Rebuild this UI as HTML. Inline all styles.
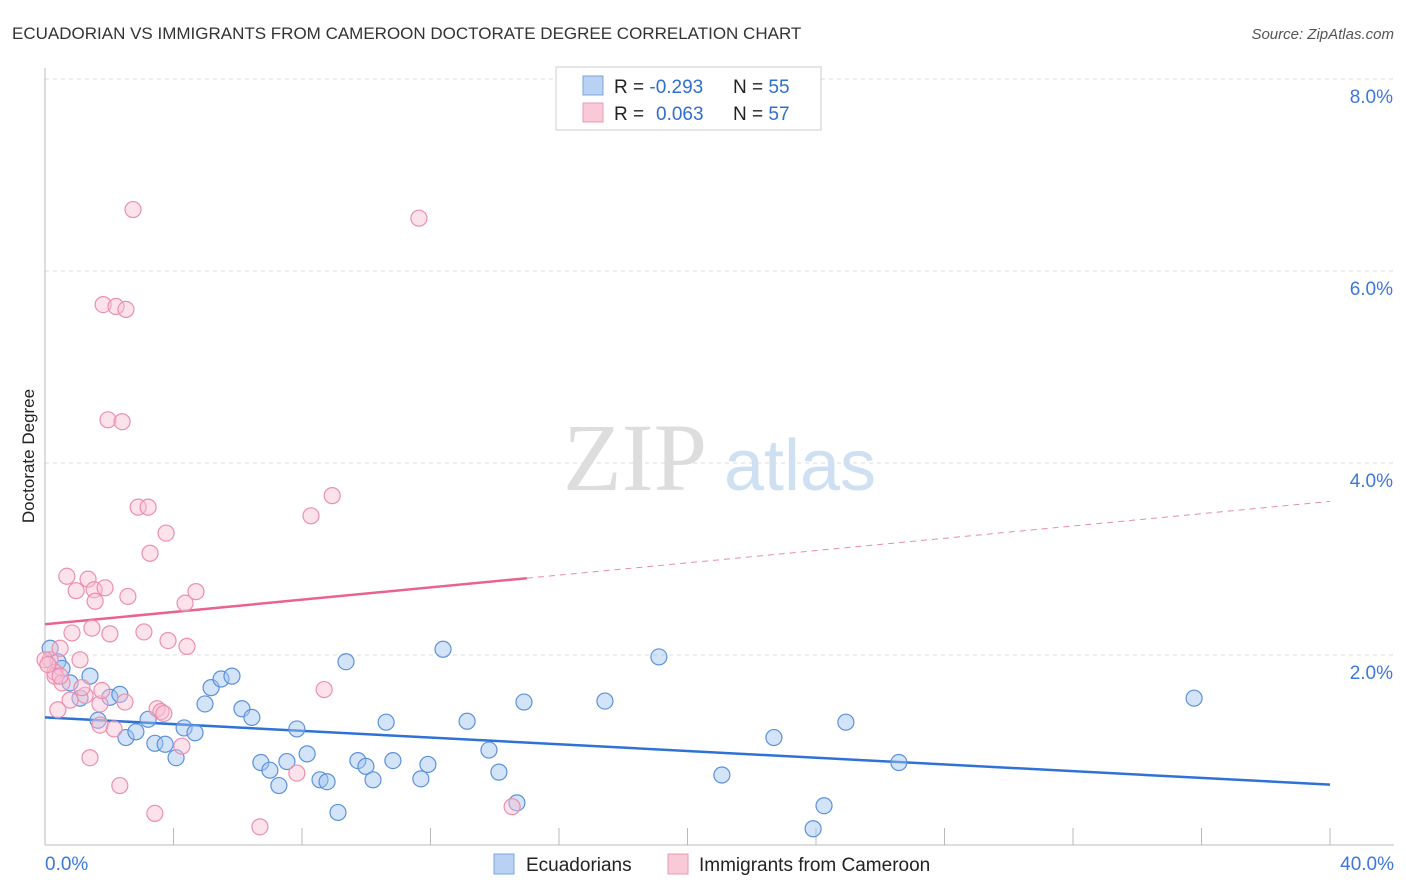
<!DOCTYPE html>
<html><head><meta charset="utf-8"><style>
body{margin:0;background:#fff;font-family:"Liberation Sans",sans-serif;}
svg{display:block}
</style></head><body>
<svg width="1406" height="892" id="chart">
<text x="12" y="39" font-size="17" fill="#333">ECUADORIAN VS IMMIGRANTS FROM CAMEROON DOCTORATE DEGREE CORRELATION CHART</text>
<text x="1394" y="39" font-size="15" fill="#555" font-style="italic" text-anchor="end">Source: ZipAtlas.com</text>
<text x="34" y="456" font-size="17" fill="#222" text-anchor="middle" transform="rotate(-90 34 456)">Doctorate Degree</text>
<g>
<text x="635" y="490" font-size="96" fill="#ddd" font-family="Liberation Serif,serif" text-anchor="middle">ZIP</text>
<text x="800" y="490" font-size="72" fill="#cfe0f3" text-anchor="middle">atlas</text>
</g>
<g id="grid"></g><g id="axes"></g><g id="trend"></g><g id="pts"></g>
<g>
<rect x="556" y="67" width="265" height="63" fill="#fff" stroke="#ccc"/>
<rect x="583" y="76" width="20" height="19" fill="#b9d2f3" stroke="#7aa4de"/>
<rect x="583" y="103" width="20" height="19" fill="#f9c9d8" stroke="#eb9ab4"/>
<text x="614" y="93" font-size="19" fill="#222">R = <tspan fill="#2f6fd0">-0.293</tspan><tspan x="733">N = </tspan><tspan fill="#2f6fd0">55</tspan></text>
<text x="614" y="120" font-size="19" fill="#222">R = <tspan fill="#2f6fd0" x="656">0.063</tspan><tspan x="733">N = </tspan><tspan fill="#2f6fd0">57</tspan></text>
</g>
<g>
<rect x="494" y="854" width="20" height="20" fill="#b9d2f3" stroke="#7aa4de"/>
<text x="526" y="871" font-size="19" fill="#222">Ecuadorians</text>
<rect x="668" y="854" width="20" height="20" fill="#f9c9d8" stroke="#eb9ab4"/>
<text x="699" y="871" font-size="19" fill="#222">Immigrants from Cameroon</text>
</g>
</svg>
<script>
const blueX=[0.16,0.40,0.53,0.78,1.09,1.40,1.65,2.02,2.33,2.52,2.83,3.21,3.42,3.74,4.08,4.33,4.67,4.98,5.17,5.48,5.82,6.13,6.44,6.72,7.00,7.28,7.53,7.84,8.16,8.56,8.78,9.12,9.37,9.74,9.99,10.21,10.62,10.83,11.70,11.92,12.39,13.14,13.82,14.13,14.69,14.91,17.43,19.11,21.07,22.69,23.91,24.25,24.93,26.58,35.77];
const blueY=[2.07,1.93,1.86,1.71,1.55,1.78,1.32,1.56,1.59,1.14,1.20,1.33,1.08,1.07,0.93,1.24,1.19,1.49,1.66,1.75,1.78,1.44,1.35,0.88,0.80,0.64,0.89,1.23,0.97,0.70,0.68,0.36,1.93,0.90,0.84,0.70,1.30,0.90,0.71,0.86,2.06,1.31,1.01,0.78,0.46,1.51,1.52,1.98,0.75,1.14,0.19,0.43,1.30,0.88,1.55];
const pinkX=[0.16,0.31,0.47,0.40,0.68,0.84,0.97,1.09,1.25,1.34,1.40,1.46,1.53,1.56,1.71,1.81,1.87,1.96,2.02,2.15,2.21,2.33,2.40,2.52,2.58,2.74,2.90,3.08,3.21,3.27,3.42,3.49,3.61,3.70,3.77,3.83,4.26,4.36,4.42,4.70,6.69,7.84,8.28,8.69,8.94,11.64,14.54,0.31,0.53,0.78,1.15,1.77,2.49,1.71,0.47,0.0,0.09];
const pinkY=[1.95,1.82,2.07,1.43,2.82,2.23,2.67,1.95,1.58,2.79,0.93,2.28,2.68,2.56,1.49,5.65,2.70,4.45,2.22,1.23,5.63,0.64,4.43,5.60,2.61,6.64,3.54,2.24,3.54,3.06,0.35,1.44,1.41,1.39,3.27,2.15,1.05,2.54,2.09,2.66,0.21,0.77,3.45,1.64,3.66,6.55,0.42,1.78,1.71,1.53,1.66,1.63,1.51,1.27,1.78,1.95,1.90];
const yTicks=[2,4,6,8];
const yTickLabels=["2.0%","4.0%","6.0%","8.0%"];
const xTicks=[4,8,12,16,20,24,28,32,36,40];
const blueTrend=[1.35,0.65];
const pinkTrend=[2.32,2.80,3.60];
const sx=v=>45+v*1285/40, sy=v=>847-v*96;
const NS="http://www.w3.org/2000/svg";
function mk(parent,tag,attrs){const e=document.createElementNS(NS,tag);for(const k in attrs)e.setAttribute(k,attrs[k]);document.getElementById(parent).appendChild(e);return e;}
yTicks.forEach((t,i)=>{
 let l=mk('grid','line',{x1:45,x2:1394,y1:sy(t),y2:sy(t),stroke:'#ddd','stroke-dasharray':'4,4'});
 
 
 let tx=mk('grid','text',{x:1393,y:sy(t)+24,'font-size':19,fill:'#3d78d8','text-anchor':'end'});
 tx.textContent=yTickLabels[i];
 
 
});
let ax=mk('axes','line',{x1:45,x2:45,y1:68,y2:845,stroke:'#bbb'});


let bx=mk('axes','line',{x1:45,x2:1394,y1:845,y2:845,stroke:'#bbb'});


xTicks.forEach(t=>{let l=mk('axes','line',{x1:sx(t),x2:sx(t),y1:828,y2:845,stroke:'#bbb'});
 
 });
let x0=mk('axes','text',{x:45,y:870,'font-size':19,fill:'#3d78d8'});x0.textContent='0.0%';


let x1=mk('axes','text',{x:1394,y:870,'font-size':19,fill:'#3d78d8','text-anchor':'end'});x1.textContent='40.0%';


blueX.forEach((x,i)=>{let c=mk('pts','circle',{cx:sx(x),cy:sy(blueY[i]),r:8,fill:'rgba(160,195,240,0.45)',stroke:'#5d91dc','stroke-width':1.2});
 
 });
pinkX.forEach((x,i)=>{let c=mk('pts','circle',{cx:sx(x),cy:sy(pinkY[i]),r:8,fill:'rgba(248,190,210,0.45)',stroke:'#ec8fae','stroke-width':1.2});
 
 });
let bt=mk('trend','line',{x1:sx(0),y1:sy(blueTrend[0]),x2:sx(40),y2:sy(blueTrend[1]),stroke:'#2f72d6','stroke-width':2.5});


let pt=mk('trend','line',{x1:sx(0),y1:sy(pinkTrend[0]),x2:sx(15),y2:sy(pinkTrend[1]),stroke:'#e8648f','stroke-width':2.5});


let pd=mk('trend','line',{x1:sx(15),y1:sy(pinkTrend[1]),x2:sx(40),y2:sy(pinkTrend[2]),stroke:'#eb8aab','stroke-width':1,'stroke-dasharray':'6,5'});


</script>
</body></html>
